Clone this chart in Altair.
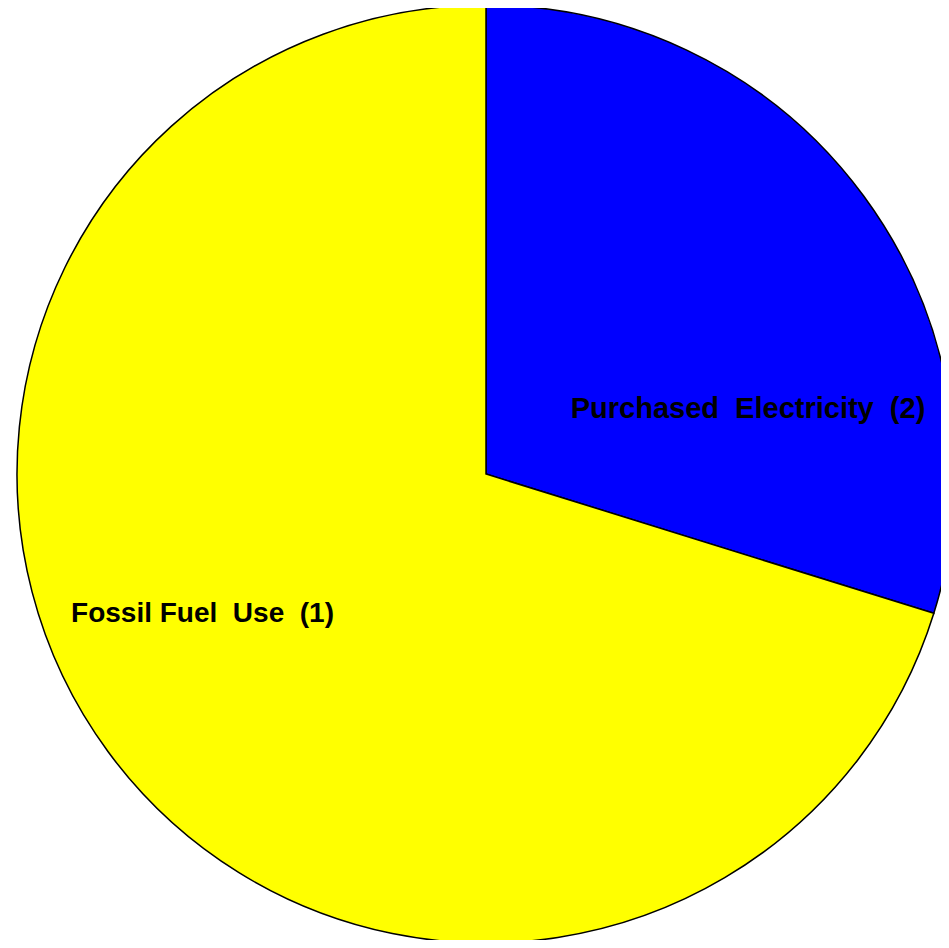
import altair as alt
import pandas as pd

categories = ["Purchased Electricity (2)", "Fossil Fuel Use (1)"]
label_texts = ["Purchased\u00a0\u00a0Electricity\u00a0\u00a0(2)", "Fossil Fuel\u00a0\u00a0Use\u00a0\u00a0(1)"]
values = [29.8, 70.2]
colors = ["#0000ff", "#ffff00"]

df = pd.DataFrame({"category": categories, "value": values, "order": [0, 1]})

pie = alt.Chart(df).mark_arc(stroke="black", strokeWidth=1.5).encode(
    theta=alt.Theta("value:Q", stack=True),
    color=alt.Color("category:N", scale=alt.Scale(domain=categories, range=colors), legend=None),
    order=alt.Order("order:Q"),
    x=alt.value(478),
    y=alt.value(466),
    radius=alt.value(469),
)

lab1 = alt.Chart(pd.DataFrame({"t": [label_texts[0]]})).mark_text(
    font="Liberation Sans", fontWeight="bold", fontSize=29, color="black", align="center", baseline="middle"
).encode(text="t:N", x=alt.value(740), y=alt.value(401))

lab2 = alt.Chart(pd.DataFrame({"t": [label_texts[1]]})).mark_text(
    font="Liberation Sans", fontWeight="bold", fontSize=28, color="black", align="center", baseline="middle"
).encode(text="t:N", x=alt.value(194.5), y=alt.value(606))

chart = alt.layer(pie, lab1, lab2).properties(
    width=933, height=932, padding=0, autosize=alt.AutoSizeParams(type="none")
).configure_view(stroke=None)

chart.save("out.html", embed_options={"renderer": "svg", "actions": False})
